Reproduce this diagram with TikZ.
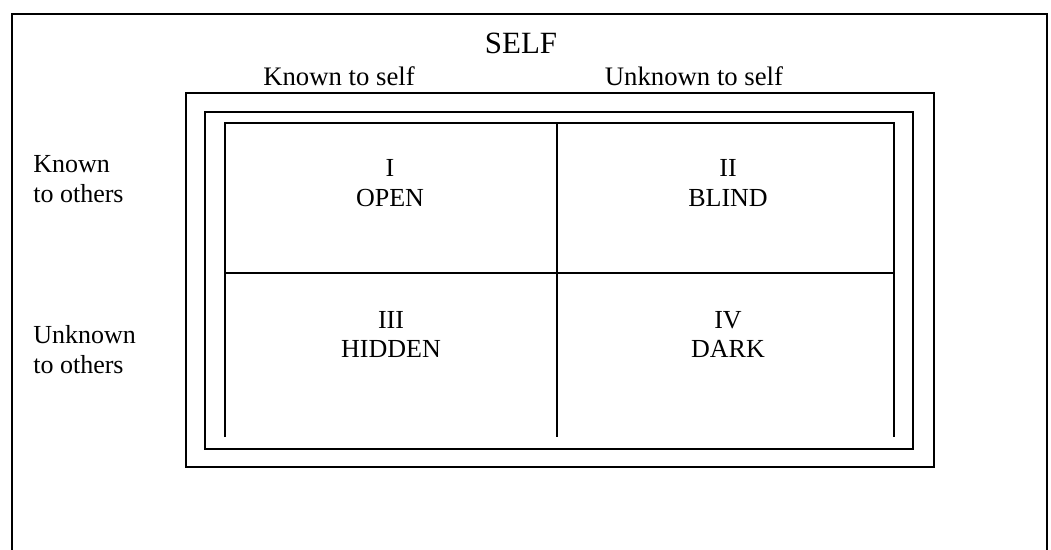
\documentclass[tikz,border=0pt]{standalone}
\usepackage{fontspec}
\setmainfont{Liberation Serif}
\begin{document}
\begin{tikzpicture}[x=0.025cm,y=-0.025cm,
  lbl/.style={anchor=base,inner sep=0pt,font=\fontsize{18.5}{22}\selectfont},
  side/.style={lbl,anchor=base west}]
  \useasboundingbox(0,0)rectangle(1051,550);
  \draw[line width=1.2pt](12,550)--(12,14)--(1047,14)--(1047,550); %frame, open below
  \draw[line width=1.4pt](186,93)rectangle(934,467);
  \draw[line width=1.1pt](205,112)rectangle(913,449);
  \draw[line width=1pt](225,437)--(225,123)--(894,123)--(894,437); %window
  \draw[line width=1pt](225,273)--(894,273);
  \draw[line width=1pt](557,123)--(557,437);
  \node[lbl,font=\fontsize{22}{26}\selectfont](self)at(521,54){SELF};
  \node[lbl,font=\fontsize{19}{23}\selectfont](kself)at(339,86){Known to self};
  \node[lbl,font=\fontsize{19}{23}\selectfont](uself)at(694,86){Unknown to self};
  \node[side](kothA)at(33,173){Known};
  \node[side](kothB)at(33,203){to others};
  \node[side](uothA)at(33,343){Unknown};
  \node[side](uothB)at(33,373){to others};
  \node[lbl](openN)at(390,177){I};
  \node[lbl](openT)at(390,207){OPEN}; %quadrant I
  \node[lbl](blindN)at(728,177){II};
  \node[lbl](blindT)at(728,207){BLIND}; %quadrant II
  \node[lbl](hidN)at(391,328){III};
  \node[lbl](hidT)at(391,357){HIDDEN}; %quadrant III
  \node[lbl](darkN)at(728,328){IV};
  \node[lbl](darkT)at(728,357){DARK}; %quadrant IV
\end{tikzpicture}
\end{document}
